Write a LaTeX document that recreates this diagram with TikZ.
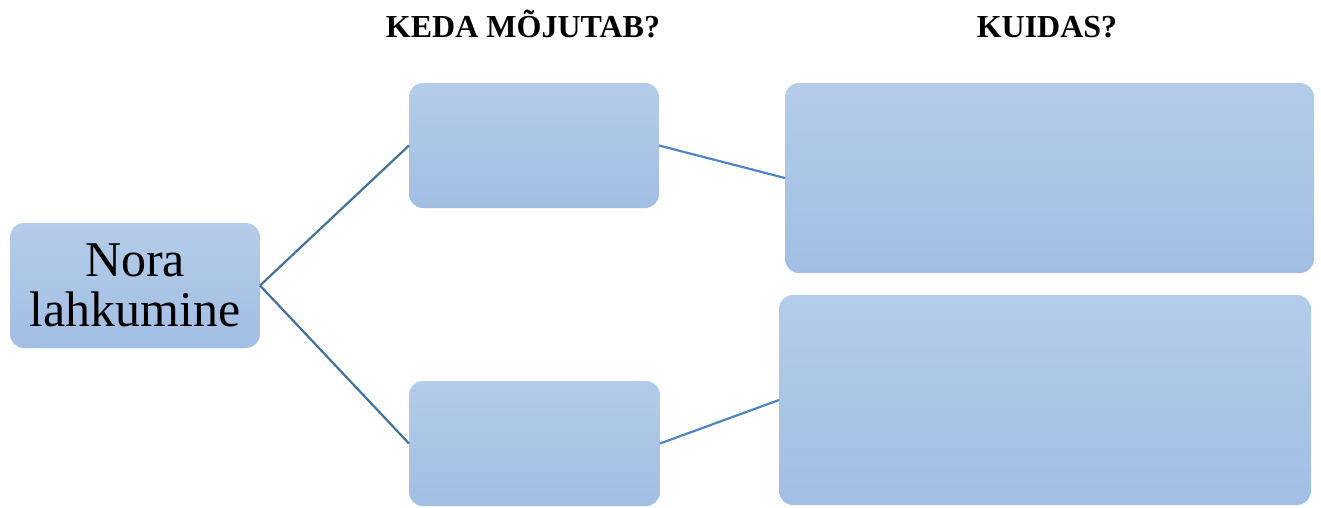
\documentclass[tikz,border=0pt]{standalone}
\usepackage{fontspec}
\setmainfont{Liberation Serif}
\begin{document}
\begin{tikzpicture}[x=1pt,y=-1pt,
  box/.style={rounded corners=14pt, top color=boxtop, bottom color=boxbot, draw=none,
    inner sep=0pt, outer sep=0pt, align=center},
  linkL/.style={draw=linkdark, line width=2.2pt},
  linkR/.style={draw=linklight, line width=2.2pt},
  head/.style={font=\fontsize{32}{34}\selectfont\bfseries, anchor=base}]
\definecolor{boxtop}{HTML}{B4CCE9}
\definecolor{boxbot}{HTML}{A2BEE3}
\definecolor{linkdark}{HTML}{41719C}
\definecolor{linklight}{HTML}{4F86C2}
\useasboundingbox (0,0) rectangle (1321,507);

% headings
\node[head] (h1) at (523,37) {KEDA MÕJUTAB?};
\node[head] (h2) at (1047,37) {KUIDAS?};

% boxes
\node[box, minimum width=250pt, minimum height=125pt,
  font=\fontsize{50}{50}\selectfont] (root) at (135,285.5) {Nora\\lahkumine};
\node[box, minimum width=250pt, minimum height=125pt] (m1) at (534,145.5) {};
\node[box, minimum width=251pt, minimum height=125pt] (m2) at (534.5,443.5) {};
\node[box, minimum width=529pt, minimum height=190pt] (r1) at (1049.5,178) {};
\node[box, minimum width=532pt, minimum height=210pt] (r2) at (1045,400) {};

% connectors
\draw[linkL] (root.east) -- (m1.west);
\draw[linkL] (root.east) -- (m2.west);
\draw[linkR] (m1.east) -- (r1.west);
\draw[linkR] (m2.east) -- (r2.west);
\end{tikzpicture}
\end{document}
